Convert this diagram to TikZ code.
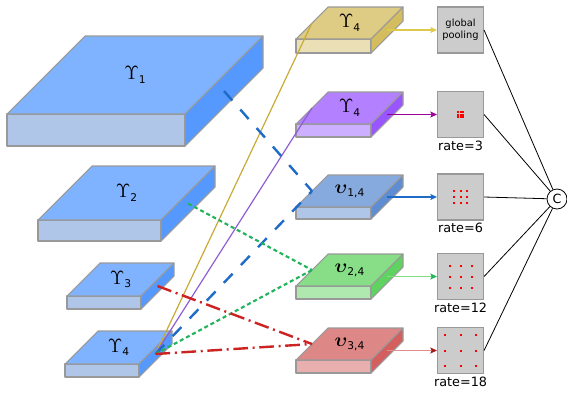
\documentclass[tikz,border=0pt]{standalone}
\usepackage{fontspec}
\setmainfont{DejaVu Sans}
\usepackage{tikz}
\usetikzlibrary{
  arrows.meta,
  positioning,
  calc
}
% Slab colours: top, front and side faces
\definecolor{SkyTop}{HTML}{80B3FF}
\definecolor{SkyFront}{HTML}{AFC6E9}
\definecolor{SkySide}{HTML}{5599FF}
\definecolor{SandTop}{HTML}{DECB84}
\definecolor{SandFront}{HTML}{EBDFB6}
\definecolor{SandSide}{HTML}{D4BD5F}
\definecolor{LilacTop}{HTML}{B380FF}
\definecolor{LilacFront}{HTML}{CCAFFF}
\definecolor{LilacSide}{HTML}{9955FF}
\definecolor{SteelTop}{HTML}{87AADE}
\definecolor{SteelFront}{HTML}{AFC6E9}
\definecolor{SteelSide}{HTML}{5F8DD3}
\definecolor{MintTop}{HTML}{87DE87}
\definecolor{MintFront}{HTML}{AFE9AF}
\definecolor{MintSide}{HTML}{5FD35F}
\definecolor{CoralTop}{HTML}{DE8787}
\definecolor{CoralFront}{HTML}{E9AFAF}
\definecolor{CoralSide}{HTML}{D35F5F}
\definecolor{SlabEdge}{HTML}{999999}
% Connector colours
\definecolor{CGold}{HTML}{C8AB37}
\definecolor{CViolet}{HTML}{8D5FD3}
\definecolor{CBlue}{HTML}{1E6BC8}
\definecolor{CGreen}{HTML}{22B35E}
\definecolor{CRed}{HTML}{CC2222}
% Pooling boxes
\definecolor{BoxFill}{HTML}{CCCCCC}
\definecolor{BoxEdge}{HTML}{999999}
\definecolor{DotRed}{HTML}{FF0000}
\tikzset{
  % Slab face outline
  slab/.style={draw=SlabEdge, line width=0.8pt, line join=round},
  % Slab label
  slablbl/.style={inner sep=0pt},
  % Pooling box
  pbox/.style={
    rectangle, draw=BoxEdge, fill=BoxFill, line width=0.8pt,
    minimum size=34.5pt, inner sep=0pt,
    align=center, font=\fontsize{7.4}{8.6}\selectfont
  },
  % Rate label
  ratelbl/.style={font=\fontsize{9.6}{11}\selectfont, inner sep=1pt},
  % Connectors between slabs
  ycon/.style={CGold, line width=0.9pt},
  pcon/.style={CViolet, line width=0.9pt},
  bcon/.style={CBlue, line width=1.8pt, dash pattern=on 9.5pt off 9pt},
  gcon/.style={CGreen, line width=1.6pt, dash pattern=on 3pt off 2.2pt},
  rcon/.style={CRed, line width=1.8pt, dash pattern=on 11pt off 3.5pt on 1.5pt off 3.5pt},
  % Arrow: line colour, tip colour
  arr/.style 2 args={
    -{Stealth[length=5pt,width=4.5pt,inset=1pt,color=#2]},
    line width=0.9pt, color=#1
  },
  % Concat lines
  cat/.style={black, line width=0.6pt}
}
% #1 name, #2 front top-left corner, #3 width, #4 height, #5 depth, #6 colour, #7 label
\newcommand{\slab}[7]{%
  \coordinate (#1) at #2;
  \filldraw[slab, fill=#6Front] (#1) rectangle ++(#3,#4);
  \filldraw[slab, fill=#6Top] (#1) -- ++(#5,-#5) -- ++(#3,0) -- ++(-#5,#5) -- cycle;
  \filldraw[slab, fill=#6Side] (#1) ++(#3,0) -- ++(#5,-#5) -- ++(0,#4) -- ++(-#5,#5) -- cycle;
  \node[slablbl] (#1-lbl) at ($(#1)+(#3/2+#5/2,-#5/2)$) {#7};
  \coordinate (#1-side) at ($(#1)+(#3+#5/2,#4/2-#5/2)$);
  \coordinate (#1-edge) at ($(#1)+(#5/2,-#5/2)$);
}
% feature symbols with a sans index
\newcommand{\idx}[1]{\raisebox{-0.45ex}{\fontsize{8}{9}\selectfont#1}}
\newcommand{\gam}[1]{{\fontsize{14.4}{16}\selectfont$\Upsilon$}\idx{#1}}
\newcommand{\ups}[1]{{\fontsize{15}{16}\selectfont$\boldsymbol{\upsilon}$}\idx{#1}}
\usepackage{amsmath,bm}

\begin{document}
\begin{tikzpicture}[x=0.75pt, y=-0.75pt]
  \useasboundingbox (0,0) rectangle (567,394);

  % Input features
  \slab{g1}{(7,114)}{178}{32}{78}{Sky}{\gam{1}}
  \slab{g2}{(38,220)}{123}{21}{54}{Sky}{\gam{2}}
  \slab{g3}{(67,296)}{74}{13}{33}{Sky}{\gam{3}}
  \slab{g4}{(65,364)}{74}{13}{33}{Sky}{\gam{4}}

  % Fused features
  \slab{y4}{(296,39)}{75}{14}{32}{Sand}{\gam{4}}
  \slab{p4}{(296,124)}{75}{13}{32}{Lilac}{\gam{4}}
  \slab{u1}{(296,207)}{75}{12}{32}{Steel}{\ups{1,4}}
  \slab{u2}{(296,286)}{75}{13}{32}{Mint}{\ups{2,4}}
  \slab{u3}{(296,360)}{75}{13}{32}{Coral}{\ups{3,4}}

  % Pooling branches
  \node[pbox, right=37.5pt of y4-side] (gp)  {global\\pooling};
  \node[pbox, right=37.5pt of p4-side] (r3)  {};
  \node[pbox, right=37.5pt of u1-side] (r6)  {};
  \node[pbox, right=37.5pt of u2-side] (r12) {};
  \node[pbox, right=37.5pt of u3-side] (r18) {};
  \node[ratelbl, below=1pt of r3]  (r3-lbl)  {rate=3};
  \node[ratelbl, below=1pt of r6]  (r6-lbl)  {rate=6};
  \node[ratelbl, below=1pt of r12] (r12-lbl) {rate=12};
  \node[ratelbl, below=1pt of r18] (r18-lbl) {rate=18};
  \foreach \b/\s in {r3/2.8, r6/6.2, r12/11, r18/15.7}
    \foreach \i in {-1,0,1}
      \foreach \j in {-1,0,1}
        \fill[DotRed] ($(\b)+(\i*\s,\j*\s)$) ++(-1,-1) rectangle ++(2,2);

  \node[circle, draw, line width=0.6pt, minimum size=15pt, inner sep=0pt,
        font=\fontsize{9.5}{10}\selectfont] (cat) at (557,199) {C};

  % Connectors
  \draw[ycon] (g4-side) -- (y4-edge);
  \draw[pcon] (g4-side) -- (p4-edge);
  \draw[bcon] (g1-side) -- (u1-edge);
  \draw[bcon] (g4-side) -- (u1-edge);
  \draw[gcon] (g2-side) -- (u2-edge);
  \draw[gcon] (g4-side) -- (u2-edge);
  \draw[rcon] (g3-side) -- (u3-edge);
  \draw[rcon] (g4-side) -- (u3-edge);

  \draw[arr={SandSide!80!yellow}{SandSide!80!yellow}] (y4-side) -- (gp);
  \draw[arr={violet!80!magenta}{violet!80!magenta}] (p4-side) -- (r3);
  \draw[arr={CBlue}{CBlue}] (u1-side) -- (r6);
  \draw[arr={MintSide!80!white}{CGreen}] (u2-side) -- (r12);
  \draw[arr={CoralSide!70!white}{CRed!80!black}] (u3-side) -- (r18);

  \foreach \b in {gp, r3, r6, r12, r18}
    \draw[cat] (\b.east) -- (cat);
\end{tikzpicture}
\end{document}
